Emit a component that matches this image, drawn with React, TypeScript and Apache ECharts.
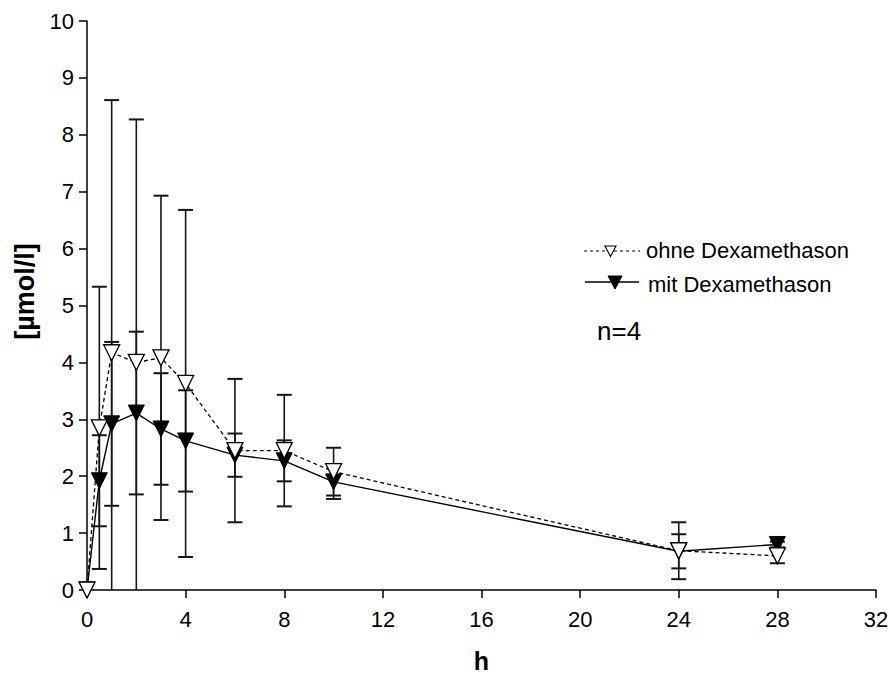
import React, { useEffect, useRef } from "react";
import * as echarts from "echarts";

const hours = [0, 0.5, 1, 2, 3, 4, 6, 8, 10, 24, 28];
const ohneMean = [0, 2.85, 4.17, 4.0, 4.08, 3.63, 2.45, 2.45, 2.08, 0.69, 0.6];
const ohneSD = [0, 2.48, 4.44, 4.27, 2.85, 3.05, 1.26, 0.98, 0.42, 0.5, 0.13];
const mitMean = [0, 1.92, 2.92, 3.11, 2.83, 2.62, 2.37, 2.27, 1.9, 0.68, 0.8];
const mitSD = [0, 0.8, 1.44, 1.43, 0.98, 0.89, 0.38, 0.36, 0.3, 0.3, 0.05];

const ohneName = "ohne Dexamethason";
const mitName = "mit Dexamethason";
const nText = "n=4";
const xTitle = "h";
const yTitle = "[µmol/l]";

const FONT = 'Arial, "Liberation Sans", sans-serif';

function errData(mean: number[], sd: number[]) {
  return hours
    .map((h, i) => [h, Math.max(0, mean[i] - sd[i]), mean[i] + sd[i], sd[i]])
    .filter((d) => d[3] > 0);
}

function errSeries(data: number[][], z: number) {
  return {
    type: "custom",
    z,
    silent: true,
    clip: false,
    data,
    encode: { x: 0, y: [1, 2] },
    renderItem: (params: any, api: any) => {
      const x = api.value(0);
      const lo = api.value(1);
      const hi = api.value(2);
      const top = api.coord([x, hi]);
      const bot = api.coord([x, lo]);
      const hw = 7.5;
      const style = { stroke: "#151515", lineWidth: 1.6 };
      const children: any[] = [
        { type: "line", shape: { x1: top[0], y1: top[1], x2: bot[0], y2: bot[1] }, style },
        { type: "line", shape: { x1: top[0] - hw, y1: top[1], x2: top[0] + hw, y2: top[1] }, style: { ...style, lineWidth: 2 } },
      ];
      if (lo > 0) {
        children.push({ type: "line", shape: { x1: bot[0] - hw, y1: bot[1], x2: bot[0] + hw, y2: bot[1] }, style: { ...style, lineWidth: 2 } });
      }
      return { type: "group", children };
    },
  };
}

export default function App() {
  const ref = useRef<HTMLDivElement>(null);
  useEffect(() => {
    if (!ref.current) return;
    const chart = echarts.init(ref.current, null, { renderer: "svg" });
    chart.setOption({
      animation: false,
      backgroundColor: "#fff",
      textStyle: { fontFamily: FONT },
      grid: { left: 87, right: 14, top: 21, bottom: 85, containLabel: false, outerBoundsMode: "none" },
      xAxis: {
        type: "value",
        min: 0,
        max: 32,
        interval: 4,
        name: xTitle,
        nameLocation: "middle",
        nameGap: 58,
        nameTextStyle: { fontFamily: FONT, fontSize: 25, fontWeight: "bold", color: "#000" },
        axisLine: { show: true, onZero: false, lineStyle: { color: "#000", width: 1.5 } },
        axisTick: { show: true, length: 8, lineStyle: { color: "#000", width: 1.5 } },
        axisLabel: { fontFamily: FONT, fontSize: 22, color: "#000", margin: 18 },
        splitLine: { show: false },
      },
      yAxis: {
        type: "value",
        min: 0,
        max: 10,
        interval: 1,
        name: yTitle,
        nameLocation: "middle",
        nameGap: 46,
        nameRotate: 90,
        nameTextStyle: {
          fontFamily: FONT,
          fontSize: 27,
          fontWeight: "bold",
          color: "#000",
          padding: [0, 0, 0, 28],
        },
        axisLine: { show: true, lineStyle: { color: "#000", width: 1.5 } },
        axisTick: { show: true, length: 8, lineStyle: { color: "#000", width: 1.5 } },
        axisLabel: { fontFamily: FONT, fontSize: 22, color: "#000", margin: 13 },
        splitLine: { show: false },
      },
      series: [
        errSeries(errData(mitMean, mitSD), 1),
        errSeries(errData(ohneMean, ohneSD), 1),
        {
          name: mitName,
          type: "line",
          z: 3,
          clip: false,
          data: hours.map((h, i) => [h, mitMean[i]]),
          symbol: "triangle",
          symbolRotate: 180,
          symbolSize: 16,
          showAllSymbol: true,
          lineStyle: { color: "#000", width: 1.4, type: "solid" },
          itemStyle: { color: "#000", borderColor: "#000", borderWidth: 1 },
        },
        {
          name: ohneName,
          type: "line",
          z: 4,
          clip: false,
          data: hours.map((h, i) => [h, ohneMean[i]]),
          symbol: "triangle",
          symbolRotate: 180,
          symbolSize: 16,
          showAllSymbol: true,
          lineStyle: { color: "#000", width: 1.3, type: [4, 3] },
          itemStyle: { color: "#fff", borderColor: "#000", borderWidth: 1.3 },
        },
      ],
      graphic: [
        {
          type: "line",
          shape: { x1: 584, y1: 251, x2: 640, y2: 251 },
          style: { stroke: "#000", lineWidth: 1.2, lineDash: [3, 3] },
        },
        {
          type: "polygon",
          shape: { points: [[605, 246], [616, 246], [610.5, 256.5]] },
          style: { fill: "#fff", stroke: "#000", lineWidth: 1.1 },
        },
        {
          type: "text",
          x: 646,
          y: 250,
          style: { text: ohneName, font: `22px ${FONT}`, fill: "#000", textVerticalAlign: "middle" },
        },
        {
          type: "line",
          shape: { x1: 585, y1: 282, x2: 639, y2: 282 },
          style: { stroke: "#000", lineWidth: 1.4 },
        },
        {
          type: "polygon",
          shape: { points: [[608, 276], [622, 276], [615, 289]] },
          style: { fill: "#000", stroke: "#000", lineWidth: 1 },
        },
        {
          type: "text",
          x: 648,
          y: 284,
          style: { text: mitName, font: `22px ${FONT}`, fill: "#000", textVerticalAlign: "middle" },
        },
        {
          type: "text",
          x: 597,
          y: 331,
          style: { text: nText, font: `26px ${FONT}`, fill: "#000", textVerticalAlign: "middle" },
        },
      ],
    });
    return () => chart.dispose();
  }, []);
  return <div ref={ref} style={{ width: 890, height: 675, position: "absolute", left: 0, top: 0 }} />;
}
